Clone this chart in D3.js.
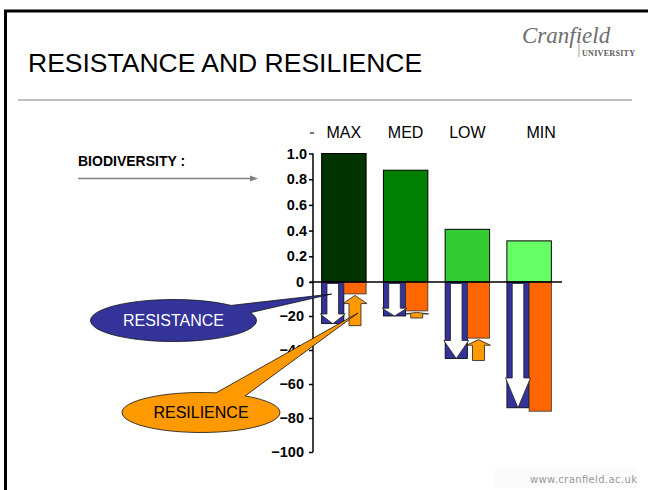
<!DOCTYPE html>
<html>
<head>
<meta charset="utf-8">
<script src="https://cdn.jsdelivr.net/npm/d3@7"></script>
<style>
  body { margin: 0; background: #fff; }
  svg { display: block; font-family: Arial, "Liberation Sans", sans-serif; }
</style>
</head>
<body>
<svg width="648" height="490"></svg>
<script>
// data
const categories = ["MAX", "MED", "LOW", "MIN"];
const biodiversity = [1.0, 0.87, 0.41, 0.32];
const resistance = [-24.5, -20, -45, -74];   // drop after disturbance (blue)
const resilience = [-7, -17, -33, -76];      // level after recovery (orange)
const topTicks = [0.2, 0.4, 0.6, 0.8, 1.0];
const bottomTicks = [0, -20, -40, -60, -80, -100];
const greens = ["#003300", "#008000", "#33cc33", "#66ff66"];

const svg = d3.select("svg");

// slide frame
svg.append("path")
    .attr("d", "M5.5,490 V11 H648")
    .attr("fill", "none")
    .attr("stroke", "#000")
    .attr("stroke-width", 3);

// title + rule
svg.append("text")
    .attr("x", 28).attr("y", 72)
    .attr("font-size", 26.5)
    .attr("fill", "#000")
    .text("RESISTANCE AND RESILIENCE");

svg.append("line")
    .attr("x1", 18).attr("x2", 632)
    .attr("y1", 100).attr("y2", 100)
    .attr("stroke", "#c0c0c0")
    .attr("stroke-width", 2);

// logo
svg.append("text")
    .attr("x", 522).attr("y", 43)
    .attr("font-family", "'Liberation Serif', serif")
    .attr("font-style", "italic")
    .attr("font-size", 23)
    .attr("fill", "#6e6e6e")
    .text("Cranfield");
svg.append("line")
    .attr("x1", 579).attr("x2", 579)
    .attr("y1", 44).attr("y2", 57)
    .attr("stroke", "#888").attr("stroke-width", 0.8);
svg.append("text")
    .attr("x", 582).attr("y", 56)
    .attr("font-family", "'Liberation Serif', serif")
    .attr("font-weight", "bold")
    .attr("font-size", 8)
    .attr("fill", "#5a5a5a")
    .attr("textLength", 53)
    .text("UNIVERSITY");

// footer
svg.append("rect")
    .attr("x", 495).attr("y", 468)
    .attr("width", 142).attr("height", 20)
    .attr("fill", "#fbfbfb");
svg.append("text")
    .attr("x", 530).attr("y", 483)
    .attr("font-family", "'DejaVu Sans', sans-serif")
    .attr("font-size", 10)
    .attr("fill", "#999")
    .attr("textLength", 107)
    .text("www.cranfield.ac.uk");

// scales
const x = d3.scaleBand()
    .domain(categories)
    .range([313, 560])
    .paddingInner(0.28)
    .paddingOuter(0.14);
const yTop = d3.scaleLinear().domain([0, 1]).range([282, 153.5]);
const yBot = d3.scaleLinear().domain([0, -100]).range([282, 452]);
const bw = x.bandwidth();

// biodiversity label and arrow
svg.append("text")
    .attr("x", 78).attr("y", 166)
    .attr("font-size", 14)
    .attr("font-weight", "bold")
    .text("BIODIVERSITY :");
svg.append("line")
    .attr("x1", 78).attr("x2", 252)
    .attr("y1", 178.5).attr("y2", 178.5)
    .attr("stroke", "#808080")
    .attr("stroke-width", 1.5);
svg.append("path")
    .attr("d", "M258,178.5 L250,175.5 L250,181.5 Z")
    .attr("fill", "#808080");

// category labels
svg.append("g")
    .selectAll("text")
    .data(categories)
    .join("text")
    .attr("x", d => x(d) + bw / 2 + (d === "MIN" ? 12 : 0))
    .attr("y", 138)
    .attr("text-anchor", "middle")
    .attr("font-size", 16)
    .text(d => d);
svg.append("line")
    .attr("x1", 310).attr("x2", 314)
    .attr("y1", 133).attr("y2", 133)
    .attr("stroke", "#444").attr("stroke-width", 1.5);

// green bars
svg.append("g")
    .selectAll("rect")
    .data(biodiversity)
    .join("rect")
    .attr("x", (d, i) => x(categories[i]))
    .attr("y", d => yTop(d))
    .attr("width", bw)
    .attr("height", d => yTop(0) - yTop(d))
    .attr("fill", (d, i) => greens[i])
    .attr("stroke", "#000")
    .attr("stroke-width", 1);

// blue resistance bars
svg.append("g")
    .selectAll("rect")
    .data(resistance)
    .join("rect")
    .attr("x", (d, i) => x(categories[i]))
    .attr("y", yBot(0))
    .attr("width", bw / 2)
    .attr("height", d => yBot(d) - yBot(0))
    .attr("fill", "#333399")
    .attr("stroke", "#000")
    .attr("stroke-width", 0.8);

// orange resilience bars
svg.append("g")
    .selectAll("rect")
    .data(resilience)
    .join("rect")
    .attr("x", (d, i) => x(categories[i]) + bw / 2)
    .attr("y", yBot(0))
    .attr("width", bw / 2)
    .attr("height", d => yBot(d) - yBot(0))
    .attr("fill", "#ff6600")
    .attr("stroke", "#333")
    .attr("stroke-width", 0.8);

// arrow shape: shaft from y0 to head base, head to tip at y1
function arrowPath(cx, y0, y1, shaftW, headW, headH) {
    const dir = y1 > y0 ? 1 : -1;
    const hb = y1 - dir * headH;
    return `M${cx - shaftW / 2},${y0} L${cx - shaftW / 2},${hb} L${cx - headW / 2},${hb}
            L${cx},${y1} L${cx + headW / 2},${hb} L${cx + shaftW / 2},${hb} L${cx + shaftW / 2},${y0} Z`;
}

// white down arrows inside blue bars
svg.append("g")
    .selectAll("path")
    .data(resistance)
    .join("path")
    .attr("d", (d, i) => {
        const cx = x(categories[i]) + bw / 4;
        const y0 = yBot(0) + 1.5, y1 = yBot(d);
        return arrowPath(cx, y0, y1, bw * 0.26, bw * 0.56, (y1 - y0) * 0.24);
    })
    .attr("fill", "#fff")
    .attr("stroke", "#222")
    .attr("stroke-width", 0.8);

// orange up arrows (recovery)
svg.append("g")
    .selectAll("path")
    .data(resilience.map((d, i) => ({ d, r: resistance[i], i })).filter(o => o.d > o.r))
    .join("path")
    .attr("d", o => {
        const cx = x(categories[o.i]) + bw * 0.75;
        const y0 = yBot(o.r) + 2, y1 = yBot(o.d) + 1.5;
        return arrowPath(cx, y0, y1, bw * 0.27, bw * 0.54, (y0 - y1) * 0.27);
    })
    .attr("fill", "#ff9900")
    .attr("stroke", "#222")
    .attr("stroke-width", 0.8);

// axes
const axisTop = d3.axisLeft(yTop)
    .tickValues(topTicks)
    .tickFormat(d3.format(".1f"))
    .tickSize(4)
    .tickPadding(2);
const axisBot = d3.axisLeft(yBot)
    .tickValues(bottomTicks)
    .tickFormat(d3.format("d"))
    .tickSize(4)
    .tickPadding(5);

[axisTop, axisBot].forEach(ax => {
    const g = svg.append("g")
        .attr("transform", "translate(313,0)")
        .call(ax);
    g.select(".domain").remove();
    g.selectAll(".tick line").attr("stroke", "#000").attr("stroke-width", 1.5);
    g.selectAll(".tick text")
        .attr("font-family", "Arial, 'Liberation Sans', sans-serif")
        .attr("font-size", 14.5)
        .attr("font-weight", "bold")
        .attr("fill", "#000");
});

svg.append("line")
    .attr("x1", 313).attr("x2", 313)
    .attr("y1", yTop(1)).attr("y2", yBot(-100))
    .attr("stroke", "#000").attr("stroke-width", 1.5);
svg.append("line")
    .attr("x1", 310).attr("x2", 562)
    .attr("y1", yBot(0)).attr("y2", yBot(0))
    .attr("stroke", "#000").attr("stroke-width", 1.5);

// callouts: ellipse with a pointer wedge
function callout(cx, cy, rx, ry, a1, a2, tip, fill, label, color) {
    const p1 = [cx + rx * Math.cos(a1), cy + ry * Math.sin(a1)];
    const p2 = [cx + rx * Math.cos(a2), cy + ry * Math.sin(a2)];
    svg.append("path")
        .attr("d", `M${p1} A${rx},${ry} 0 1 0 ${p2} L${tip} Z`)
        .attr("fill", fill)
        .attr("stroke", "#111")
        .attr("stroke-width", 0.8);
    svg.append("text")
        .attr("x", cx).attr("y", cy + 5.5)
        .attr("text-anchor", "middle")
        .attr("font-size", 16)
        .attr("fill", color)
        .text(label);
}
const rad = Math.PI / 180;
callout(173.5, 320.5, 83, 21, -46 * rad, -22 * rad, [331.7, 294], "#333399", "RESISTANCE", "#fff");
callout(201, 412.5, 79, 20, -79 * rad, -56 * rad, [358, 313], "#ff9900", "RESILIENCE", "#000");
</script>
</body>
</html>
